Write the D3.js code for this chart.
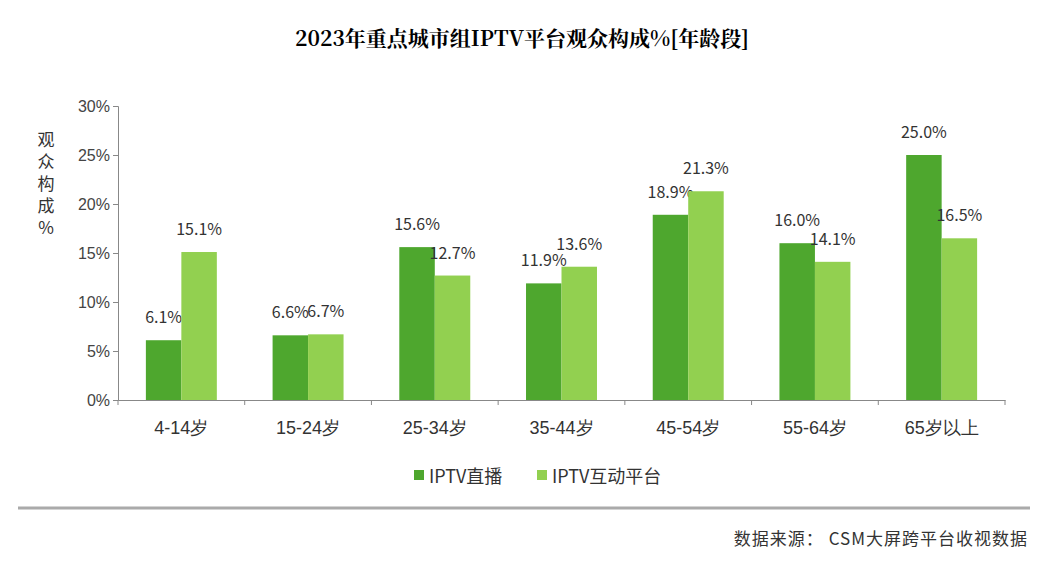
<!DOCTYPE html>
<html><head><meta charset="utf-8">
<script src="https://cdn.jsdelivr.net/npm/d3@7"></script>
<style>body{margin:0;background:#fff;font-family:"Noto Sans CJK SC","Liberation Sans",sans-serif}</style>
</head><body>
<svg id="chart" width="1060" height="563"></svg>
<script>
var categories = ["4-14岁","15-24岁","25-34岁","35-44岁","45-54岁","55-64岁","65岁以上"];
var seriesNames = ["IPTV直播","IPTV互动平台"];
var liveValues = [6.1,6.6,15.6,11.9,18.9,16.0,25.0];
var interactiveValues = [15.1,6.7,12.7,13.6,21.3,14.1,16.5];
var yTicks = [0,5,10,15,20,25,30];
var colors = ["#4ea72e","#92d050"];

var svg = d3.select("#chart");
var margin = {top: 106, left: 118, right: 55, bottom: 163};
var width = 1060 - margin.left - margin.right, height = 563 - margin.top - margin.bottom;

svg.append("text").attr("x", 522).attr("y", 46).attr("text-anchor", "middle")
  .style("font-family", "'Noto Serif CJK SC','DejaVu Serif',serif").style("font-weight", "bold")
  .style("font-size", "21px").text("2023年重点城市组IPTV平台观众构成%[年龄段]");

var g = svg.append("g").attr("transform", "translate(" + margin.left + "," + margin.top + ")");
var x = d3.scaleBand().domain(categories).range([0, width]);
var xs = d3.scaleBand().domain([0,1]).range([x.bandwidth()*0.22, x.bandwidth()*0.78]);
var y = d3.scaleLinear().domain([0,30]).range([height, 0]);

var ya = g.append("g").call(d3.axisLeft(y).tickValues(yTicks).tickFormat(function(d){return d + "%";}).tickSize(5));
ya.select(".domain").attr("stroke", "#888");
ya.selectAll("line").attr("stroke", "#888");
ya.selectAll("text").style("font-size", "16px").style("fill", "#444").attr("font-family", "'Liberation Sans',sans-serif");

var xa = g.append("g").attr("transform", "translate(0," + height + ")").call(d3.axisBottom(x).tickSize(0).tickPadding(21));
xa.select(".domain").attr("stroke", "#888");
xa.selectAll("text").style("font-size", "18px").style("fill", "#333");
g.selectAll(".sep").data(d3.range(categories.length + 1)).enter().append("line")
  .attr("x1", function(i){return x.step()*i;}).attr("x2", function(i){return x.step()*i;})
  .attr("y1", height).attr("y2", height + 5).attr("stroke", "#888");

[liveValues, interactiveValues].forEach(function(vals, s){
  var grp = g.append("g");
  grp.selectAll("rect").data(vals).enter().append("rect")
    .attr("x", function(d,i){return x(categories[i]) + xs(s);})
    .attr("width", xs.bandwidth()).attr("y", function(d){return y(d);})
    .attr("height", function(d){return height - y(d);}).attr("fill", colors[s]);
  grp.selectAll("text").data(vals).enter().append("text")
    .attr("x", function(d,i){return x(categories[i]) + xs(s) + xs.bandwidth()/2;})
    .attr("y", function(d){return y(d) - 17;}).attr("text-anchor", "middle")
    .style("font-size", "16px").style("fill", "#333").text(function(d){return d.toFixed(1) + "%";});
});

var ttl = "观众构成%".split("");
svg.selectAll(".yt").data(ttl).enter().append("text")
  .attr("x", 46).attr("y", function(d,i){return 146 + i*22;}).attr("text-anchor", "middle")
  .style("font-size", i => 17).style("fill", "#333").text(function(d){return d;});

var leg = svg.append("g").attr("transform", "translate(414,476)");
seriesNames.forEach(function(n, i){
  var lx = i * 123;
  leg.append("rect").attr("x", lx).attr("y", -6).attr("width", 10).attr("height", 10).attr("fill", colors[i]);
  leg.append("text").attr("x", lx + 15).attr("y", 7).style("font-size", "18px").style("fill", "#333").text(n);
});

svg.append("line").attr("x1", 18).attr("x2", 1030).attr("y1", 508).attr("y2", 508).attr("stroke", "#aaa").attr("stroke-width", 3);
svg.append("text").attr("x", 1028).attr("y", 545).attr("text-anchor", "end")
  .style("font-size", "17px").style("letter-spacing", "1px").style("fill", "#333").text("数据来源： CSM大屏跨平台收视数据");
</script>
</body></html>
